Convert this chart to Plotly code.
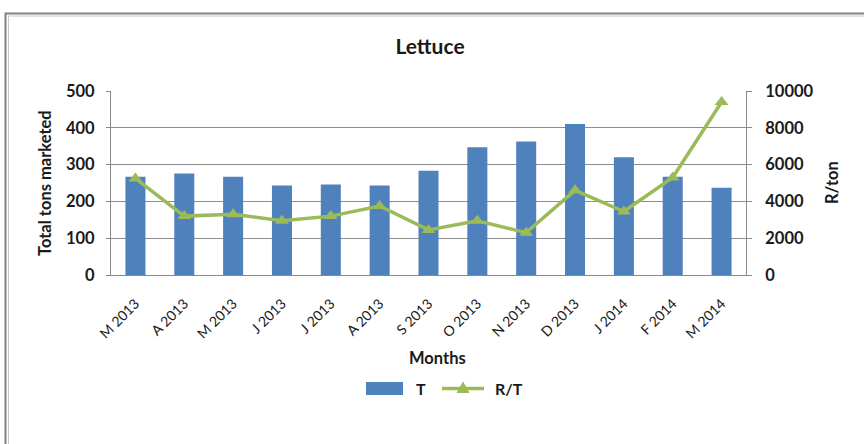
import plotly.graph_objects as go

# Monthly lettuce market data
months = ["M 2013", "A 2013", "M 2013", "J 2013", "J 2013", "A 2013", "S 2013",
          "O 2013", "N 2013", "D 2013", "J 2014", "F 2014", "M 2014"]
tons = [267, 276, 267, 243, 246, 243, 283, 347, 363, 410, 320, 267, 237]
rand_per_ton = [5250, 3200, 3300, 2950, 3200, 3750, 2450, 2950, 2300, 4600, 3450, 5300, 9400]

left_ticks = [0, 100, 200, 300, 400, 500]
right_ticks = [0, 2000, 4000, 6000, 8000, 10000]

x_idx = list(range(len(months)))

FONT = "Lato"
TXT = "#1a1a1a"
BAR_COLOR = "#4F81BD"
LINE_COLOR = "#9BBB59"
AXIS_COLOR = "#888888"

fig = go.Figure()
fig.add_trace(go.Bar(x=x_idx, y=tons, name="T", marker_color=BAR_COLOR,
                     marker_line_width=0, width=0.41, yaxis="y", showlegend=False))
fig.add_trace(go.Scatter(x=x_idx, y=rand_per_ton, name="R/T", yaxis="y2",
                         mode="lines+markers", showlegend=False,
                         line=dict(color=LINE_COLOR, width=3.5),
                         marker=dict(symbol="triangle-up", size=12, color=LINE_COLOR)))

# Page geometry in pixels
L, R, T, B = 111, 118, 91, 169
W, H = 864, 444
pw, ph = W - L - R, H - T - B


def px_x(p):
    return (p - L) / pw


def px_y(p):
    return (H - B - p) / ph


tick_font = dict(size=16.5, family=FONT, color=TXT, weight="bold")

fig.update_layout(
    width=W, height=H,
    margin=dict(l=L, r=R, t=T, b=B, pad=0),
    paper_bgcolor="white", plot_bgcolor="white",
    font=dict(family=FONT, color=TXT),
    title=dict(text="<b>Lettuce</b>", x=px_x(430), xref="paper", xanchor="center",
               y=1 - 47 / H, yanchor="middle", font=dict(size=21, family=FONT, color=TXT)),
    showlegend=False,
    xaxis=dict(
        tickmode="array", tickvals=x_idx, ticktext=months, tickangle=-45,
        range=[-0.5, len(months) - 0.5],
        tickfont=dict(size=14, family=FONT, color=TXT),
        showgrid=False, showline=True, linecolor=AXIS_COLOR, linewidth=1,
        ticks="", ticklabelstandoff=14,
        zeroline=False,
    ),
    yaxis=dict(
        range=[0, 500], tickmode="array", tickvals=left_ticks,
        tickfont=tick_font,
        showgrid=True, gridcolor="#8C8C8C", gridwidth=1,
        showline=True, linecolor=AXIS_COLOR, linewidth=1,
        ticks="outside", ticklen=4, tickcolor=AXIS_COLOR, ticklabelstandoff=8,
        zeroline=False,
    ),
    yaxis2=dict(
        range=[0, 10000], tickmode="array", tickvals=right_ticks,
        ticktext=[str(v) for v in right_ticks],
        overlaying="y", side="right",
        tickfont=tick_font,
        showgrid=False, showline=True, linecolor=AXIS_COLOR, linewidth=1,
        ticks="outside", ticklen=5, tickcolor=AXIS_COLOR, ticklabelstandoff=10,
        zeroline=False,
    ),
)

title_font = dict(size=16.5, family=FONT, color=TXT)
annotations = [
    dict(text="<b>Total tons marketed</b>", x=px_x(45), y=px_y(183), textangle=-90,
         font=title_font),
    dict(text="<b>R/ton</b>", x=px_x(832), y=px_y(183), textangle=-90, font=title_font),
    dict(text="<b>Months</b>", x=px_x(437), y=px_y(358), font=title_font),
    # legend labels
    dict(text="<b>T</b>", x=px_x(421), y=px_y(388), font=dict(size=16, family=FONT, color=TXT)),
    dict(text="<b>R/T</b>", x=px_x(509), y=px_y(388), font=dict(size=16, family=FONT, color=TXT)),
]
for a in annotations:
    a.update(xref="paper", yref="paper", showarrow=False, xanchor="center", yanchor="middle")
fig.update_layout(annotations=annotations)

# Legend keys
fig.add_shape(type="rect", xref="paper", yref="paper",
              x0=px_x(366), x1=px_x(403), y0=px_y(395), y1=px_y(382),
              line=dict(width=0), fillcolor=BAR_COLOR)
fig.add_shape(type="line", xref="paper", yref="paper",
              x0=px_x(442), x1=px_x(484), y0=px_y(388.5), y1=px_y(388.5),
              line=dict(color=LINE_COLOR, width=3.5))
tx, ty, ts = 463, 388, 6.5
tri = "M {} {} L {} {} L {} {} Z".format(
    px_x(tx - ts), px_y(ty + ts * 0.75),
    px_x(tx + ts), px_y(ty + ts * 0.75),
    px_x(tx), px_y(ty - ts * 1.05))
fig.add_shape(type="path", xref="paper", yref="paper", path=tri,
              line=dict(width=0), fillcolor=LINE_COLOR)

# Chart frame (double gray line running off the page to the right and bottom)
fig.add_shape(type="rect", xref="paper", yref="paper",
              x0=px_x(5.5), x1=px_x(900), y0=px_y(480), y1=px_y(13.5),
              line=dict(color="#808080", width=2), fillcolor="rgba(0,0,0,0)", layer="below")
fig.add_shape(type="rect", xref="paper", yref="paper",
              x0=px_x(8.5), x1=px_x(900), y0=px_y(480), y1=px_y(16),
              line=dict(color="#C8C8C8", width=1), fillcolor="rgba(0,0,0,0)", layer="below")

fig.write_html("out.html")
